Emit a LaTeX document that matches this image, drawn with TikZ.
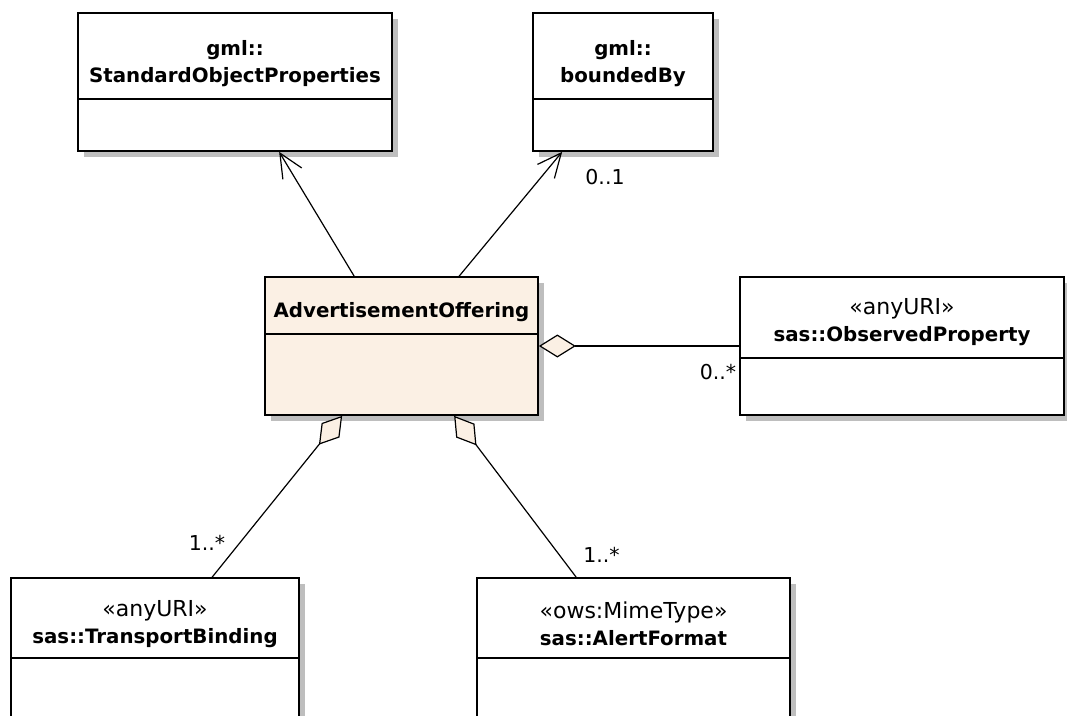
\documentclass[tikz,border=0pt]{standalone}
\usepackage{fontspec}
\setmainfont{DejaVu Sans}
\usetikzlibrary{arrows.meta,shadows,calc}
\definecolor{classfill}{RGB}{251,240,228}
\definecolor{shadowgray}{RGB}{190,190,190}
\begin{document}
\begin{tikzpicture}[x=1pt,y=-1pt,
  umlbox/.style={draw=black, line width=1.7pt, fill=white, rectangle, inner sep=0pt,
    drop shadow={shadow xshift=6pt, shadow yshift=-6pt, opacity=1, fill=shadowgray}},
  divider/.style={draw=black, line width=1.7pt},
  classname/.style={align=center, inner sep=0pt, font=\fontsize{19.8}{27}\selectfont\bfseries},
  stereoname/.style={align=center, inner sep=0pt, font=\fontsize{19.8}{27}\selectfont},
  mult/.style={inner sep=0pt, font=\fontsize{20.5}{24}\selectfont},
  assoc/.style={draw=black, line width=1.2pt},
  navend/.style={-{Straight Barb[length=24pt,width=22pt]}},
  aggend/.style={{Diamond[length=37pt,width=23pt,fill=classfill]}-},
]
\path[use as bounding box, fill=white] (0,0) rectangle (1067,715);
\clip (0,0) rectangle (1067,715);

% class boxes
\node[umlbox, minimum width=314pt, minimum height=138pt] (sop) at (235,82) {};
\node[umlbox, minimum width=180pt, minimum height=138pt] (bb) at (623,82) {};
\node[umlbox, fill=classfill, minimum width=273pt, minimum height=138pt] (ao) at (401.5,346) {};
\node[umlbox, minimum width=324pt, minimum height=138pt] (op) at (902,346) {};
\node[umlbox, minimum width=288pt, minimum height=180pt] (tb) at (155,668) {};
\node[umlbox, minimum width=313pt, minimum height=180pt] (af) at (633.5,668) {};

% compartment dividers
\draw[divider] ([yshift=-87pt]sop.north west) -- ([yshift=-87pt]sop.north east);
\draw[divider] ([yshift=-87pt]bb.north west) -- ([yshift=-87pt]bb.north east);
\draw[divider] ([yshift=-58pt]ao.north west) -- ([yshift=-58pt]ao.north east);
\draw[divider] ([yshift=-82pt]op.north west) -- ([yshift=-82pt]op.north east);
\draw[divider] ([yshift=-81pt]tb.north west) -- ([yshift=-81pt]tb.north east);
\draw[divider] ([yshift=-81pt]af.north west) -- ([yshift=-81pt]af.north east);

% names
\node[classname] (sop-name) at ($(sop.north)+(0,51)$) {gml::\\StandardObjectProperties};
\node[classname] (bb-name) at ($(bb.north)+(0,51)$) {gml::\\boundedBy};
\node[classname] (ao-name) at ($(ao.north)+(0,36)$) {AdvertisementOffering};
\node[stereoname] (op-name) at ($(op.north)+(0,46)$)
  {{\fontsize{22}{27}\selectfont «anyURI»}\\{\bfseries sas::ObservedProperty}};
\node[stereoname] (tb-name) at ($(tb.north)+(0,46.5)$)
  {{\fontsize{22}{27}\selectfont «anyURI»}\\{\bfseries sas::TransportBinding}};
\node[stereoname] (af-name) at ($(af.north)+(0,46.5)$)
  {{\fontsize{22}{27}\selectfont «ows:MimeType»}\\{\bfseries sas::AlertFormat}};

% associations
\draw[assoc, navend] ([xshift=90pt]ao.north west) -- ([xshift=202pt]sop.south west);
\draw[assoc, navend] ([xshift=195pt]ao.north west) -- ([xshift=30pt]bb.south west);
\draw[assoc, aggend] (ao.east) -- (op.west);
\draw[assoc, aggend] ([xshift=78pt]ao.south west) -- ([xshift=202pt]tb.north west);
\draw[assoc, aggend] ([xshift=190pt]ao.south west) -- ([xshift=100pt]af.north west);

% multiplicities
\node[mult] (m-bb) at (605,177) {0..1};
\node[mult] (m-op) at (718,372) {0..*};
\node[mult] (m-tb) at (207,543) {1..*};
\node[mult] (m-af) at (601.5,555) {1..*};
\end{tikzpicture}
\end{document}
